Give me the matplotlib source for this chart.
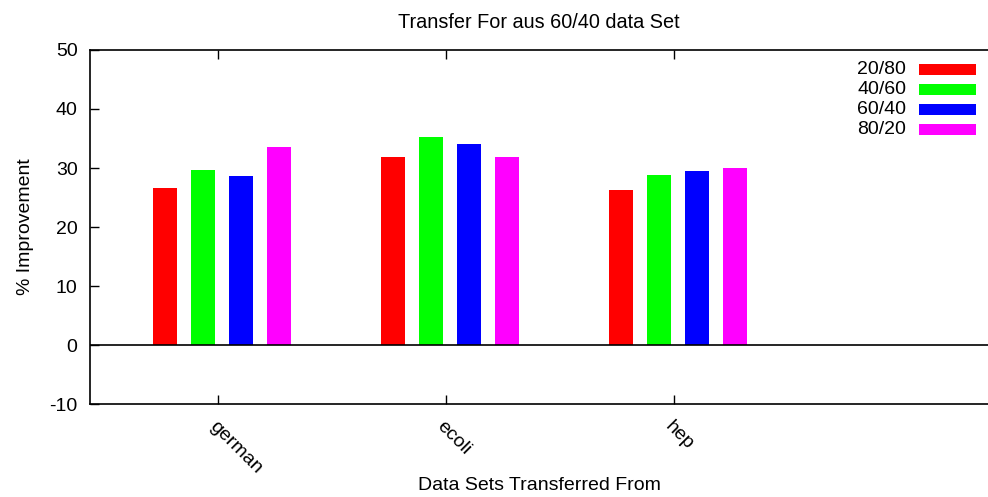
import numpy as np
import matplotlib
matplotlib.use('Agg')
import matplotlib.pyplot as plt
from matplotlib.patches import Rectangle

plt.rcParams['font.family'] = ['Liberation Sans', 'DejaVu Sans']
plt.rcParams['axes.unicode_minus'] = False

# datos
grupos = ['german', 'ecoli', 'hep']
series = ['20/80', '40/60', '60/40', '80/20']
valores = [
    [26.7, 31.9, 26.3],   # 20/80
    [29.7, 35.2, 28.9],   # 40/60
    [28.6, 34.1, 29.5],   # 60/40
    [33.5, 31.9, 30.0],   # 80/20
]
colores = ['#ff0000', '#00ff00', '#0000ff', '#ff00ff']

fig = plt.figure(figsize=(9.88, 4.97), dpi=100)
ax = fig.add_axes([0.0911, 0.1863, 0.9089, 0.7135])

x = np.arange(len(grupos))
ancho = 0.104
for i in range(len(series)):
    off = -0.2305 + i / 6.0
    ax.bar(x + off, valores[i], width=ancho, color=colores[i], linewidth=0)

ax.axhline(0, color='black', lw=1.2)

ax.set_xlim(-0.56, 3.378)
ax.set_ylim(-10, 50)
ax.set_yticks(np.arange(-10, 51, 10))
ax.set_xticks(x)
ax.set_xticklabels(grupos, rotation=-45, ha='left', va='top', rotation_mode='anchor')

ax.tick_params(axis='y', direction='in', length=6.5, width=1, labelsize=14, pad=9, right=False)
ax.tick_params(axis='x', direction='in', length=6.5, width=1, labelsize=14, pad=10, top=True)
ax.spines['right'].set_visible(False)
for s in ['left', 'top', 'bottom']:
    ax.spines[s].set_linewidth(1.2)

ax.set_title('Transfer For aus 60/40 data Set', fontsize=14.3, pad=16)
ax.set_ylabel('% Improvement', fontsize=14, labelpad=11)
ax.set_xlabel('Data Sets Transferred From', fontsize=14, va='center')
ax.xaxis.set_label_coords(0.501, -0.230)

# leyenda
ys = [0.945, 0.8886, 0.8322, 0.7758]
for i in range(len(series)):
    ax.text(0.9087, ys[i], series[i], transform=ax.transAxes, ha='right', va='center', fontsize=14)
    ax.add_patch(Rectangle((0.923, ys[i] - 0.0155), 0.0636, 0.031, transform=ax.transAxes,
                           color=colores[i], lw=0, clip_on=False))

fig.savefig('out.png', dpi=100)
